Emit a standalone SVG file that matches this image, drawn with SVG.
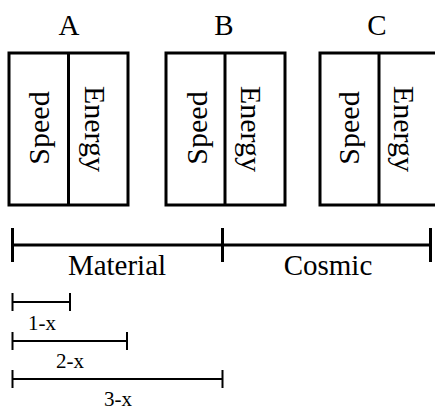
<svg xmlns="http://www.w3.org/2000/svg" width="435" height="410" viewBox="0 0 435 410">
<style>
text{font-family:"Liberation Serif","Times New Roman",serif;fill:#000;text-anchor:middle}
.lbl{font-size:29px}
.cell{font-size:30px}
.sm{font-size:21px}
.box{fill:#fff;stroke:#000;stroke-width:3}
.thick{stroke:#000;stroke-width:3;fill:none}
.thin{stroke:#000;stroke-width:2;fill:none}
</style>
<rect width="435" height="410" fill="#fff"/>
<g id="nodeA">
<text class="lbl" x="69" y="35">A</text>
<rect class="box" x="9" y="53" width="119" height="152"/>
<line class="thick" x1="68.5" y1="53" x2="68.5" y2="205"/>
<text class="cell" transform="translate(49,128) rotate(-90)">Speed</text>
<text class="cell" transform="translate(85,129) rotate(90)">Energy</text>
</g>
<g id="nodeB">
<text class="lbl" x="224" y="35">B</text>
<rect class="box" x="166" y="53" width="119" height="152"/>
<line class="thick" x1="225" y1="53" x2="225" y2="205"/>
<text class="cell" transform="translate(207,128) rotate(-90)">Speed</text>
<text class="cell" transform="translate(241,129) rotate(90)">Energy</text>
</g>
<g id="nodeC">
<text class="lbl" x="377" y="35">C</text>
<rect class="box" x="320" y="53" width="119" height="152"/>
<line class="thick" x1="379" y1="53" x2="379" y2="205"/>
<text class="cell" transform="translate(359,128) rotate(-90)">Speed</text>
<text class="cell" transform="translate(394,129) rotate(90)">Energy</text>
</g>
<g id="connectors">
<line class="thick" x1="12.5" y1="245" x2="430.5" y2="245"/>
<line class="thick" x1="12.5" y1="228" x2="12.5" y2="262"/>
<line class="thick" x1="222.5" y1="228" x2="222.5" y2="262"/>
<line class="thick" x1="430.5" y1="228" x2="430.5" y2="262"/>
<line class="thin" x1="12.5" y1="302" x2="70" y2="302"/>
<line class="thin" x1="12.5" y1="293" x2="12.5" y2="311"/>
<line class="thin" x1="70" y1="293" x2="70" y2="311"/>
<line class="thin" x1="12.5" y1="341" x2="127" y2="341"/>
<line class="thin" x1="12.5" y1="332" x2="12.5" y2="350"/>
<line class="thin" x1="127" y1="332" x2="127" y2="350"/>
<line class="thin" x1="12.5" y1="379" x2="222.5" y2="379"/>
<line class="thin" x1="12.5" y1="370" x2="12.5" y2="388"/>
<line class="thin" x1="222.5" y1="370" x2="222.5" y2="388"/>
</g>
<g id="labels">
<text class="lbl" x="117" y="275">Material</text>
<text class="lbl" x="328" y="275">Cosmic</text>
<text class="sm" x="42" y="330">1-x</text>
<text class="sm" x="70" y="368">2-x</text>
<text class="sm" x="118" y="406">3-x</text>
</g>
</svg>
